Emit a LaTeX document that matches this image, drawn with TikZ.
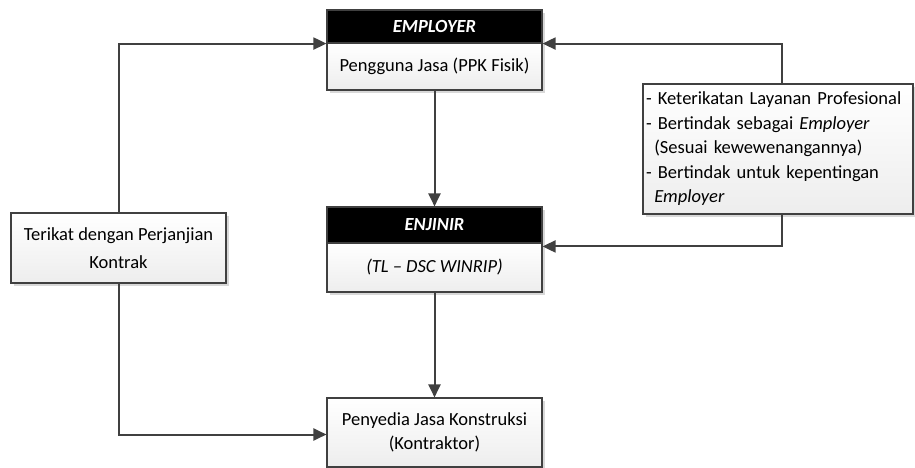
\documentclass[tikz,border=0pt]{standalone}
\usepackage{fontspec}
\setmainfont{Carlito}
\usetikzlibrary{arrows.meta,shadows,positioning}
\definecolor{edge}{HTML}{404040}
\tikzset{
  box/.style={draw=edge, line width=1.1pt, top color=white, bottom color=gray!14,
    drop shadow={shadow xshift=3pt, shadow yshift=-3pt, fill=gray!60, opacity=.5},
    minimum width=215pt, inner sep=2pt, font=\fontsize{18.5}{24.5}\selectfont, align=center},
  head/.style={draw=edge, line width=1.1pt, fill=black, text=white,
    drop shadow={shadow xshift=3pt, shadow yshift=-3pt, fill=gray!60, opacity=.5},
    minimum width=215pt, inner sep=0pt, font=\fontsize{18.5}{21}\selectfont\bfseries\itshape},
  conn/.style={draw=edge, line width=2pt, -{Triangle[length=13pt,width=12pt]}},
}
\begin{document}
\begin{tikzpicture}[x=1pt,y=-1pt]
\useasboundingbox (0,0) rectangle (915,468);
% Employer
\node[head, minimum height=33pt] (emph) at (434.5,26.5) {EMPLOYER};
\node[box, minimum height=47pt] (emp) at (434.5,66.5) {Pengguna Jasa (PPK Fisik)};
% Enjinir
\node[head, minimum height=36pt] (enjh) at (434.5,225) {ENJINIR};
\node[box, minimum height=49pt] (enj) at (434.5,267.5) {\itshape (TL -- DSC WINRIP)};
% Kontraktor
\node[box, minimum height=69pt] (kon) at (434.5,432.5) {Penyedia Jasa Konstruksi\\(Kontraktor)};
% Right box
\node[box, minimum width=270pt, minimum height=130pt, align=left, text width=264pt] (rgt) at (778,149)
  {- Keterikatan Layanan Profesional\\
   - Bertindak sebagai \textit{Employer}\\
   \hspace*{0.45em}(Sesuai kewewenangannya)\\
   - Bertindak untuk kepentingan\\
   \hspace*{0.45em}\textit{Employer}};
% Left box
\node[box, minimum height=70pt, font=\fontsize{18.5}{28}\selectfont] (lft) at (118.5,248)
  {Terikat dengan Perjanjian\\Kontrak};
% connectors
\draw[conn] (emp.south) -- (enjh.north);
\draw[conn] (enj.south) -- (kon.north);
\draw[conn] (lft.north) |- (emph.south west);
\draw[conn] (lft.south) |- ([yshift=-2pt]kon.west);
\draw[conn] ([xshift=4pt]rgt.north) |- (emph.south east);
\draw[conn] ([xshift=4pt]rgt.south) |- ([yshift=-4pt]enj.north east);
\end{tikzpicture}
\end{document}
